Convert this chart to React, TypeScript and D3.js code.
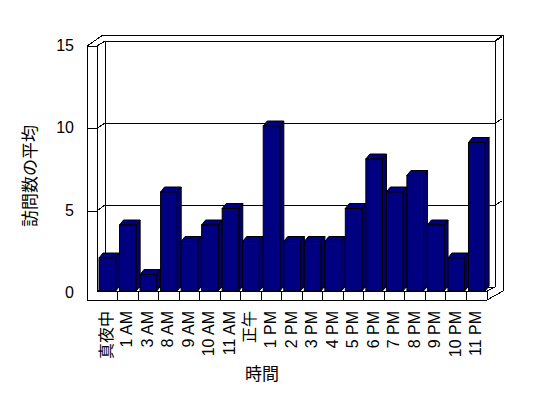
import React from "react";
import * as d3 from "d3";

const hours = ["真夜中", "1 AM", "3 AM", "8 AM", "9 AM", "10 AM", "11 AM", "正午", "1 PM", "2 PM", "3 PM", "4 PM", "5 PM", "6 PM", "7 PM", "8 PM", "9 PM", "10 PM", "11 PM"];
const visits = [2, 4, 1, 6, 3, 4, 5, 3, 10, 3, 3, 3, 5, 8, 6, 7, 4, 2, 9];
const yTicks = [0, 5, 10, 15];

const FONT = "'Liberation Sans', Arial, 'Noto Sans CJK JP', sans-serif";

export default function App() {
  const width = 548;
  const height = 398;

  // front of the floor / bars
  const x = d3.scaleBand<string>().domain(hours).range([97, 487]).paddingInner(0).paddingOuter(0);
  const yBar = d3.scaleLinear().domain([0, 15]).range([291, 43.5]);
  // front face of the left wall slab
  const ySlab = d3.scaleLinear().domain([0, 15]).range([293.5, 46]);
  // back wall
  const yBack = d3.scaleLinear().domain([0, 15]).range([287, 41]);

  const bw = x.bandwidth();
  const faceW = bw * 0.81;
  const dx = 4;
  const dy = -5;
  const line = { stroke: "#000", strokeWidth: 1, fill: "none" };

  return (
    <svg width={width} height={height} style={{ position: "absolute", left: 0, top: 0, background: "#fff" }}>
      <g shapeRendering="crispEdges">
        {/* back wall + top */}
        <path d={`M87,46 L103,35 L503,35 L503,291 L487,300 L87,300 Z`} fill="#fff" stroke="none" />
        <line x1={103} y1={35} x2={503} y2={35} {...line} />
        <line x1={105} y1={41} x2={495} y2={41} {...line} />
        <line x1={495} y1={41} x2={503} y2={35} {...line} />
        <line x1={503} y1={35} x2={503} y2={291} {...line} />
        <line x1={495} y1={41} x2={495} y2={287} {...line} />
        <line x1={105} y1={41} x2={105} y2={287} {...line} />
        <line x1={105} y1={287} x2={495} y2={287} {...line} />
        {/* left slab */}
        <line x1={87} y1={46} x2={103} y2={35} {...line} />
        <line x1={97} y1={46} x2={105} y2={41} {...line} />
        <line x1={87} y1={46} x2={97} y2={46} {...line} />
        <line x1={87} y1={46} x2={87} y2={300} {...line} />
        <line x1={97} y1={46} x2={97} y2={291} {...line} />
        <line x1={97} y1={291} x2={105} y2={287} {...line} />
        {/* gridlines */}
        {yTicks.filter((t) => t > 0).map((t) => (
          <g key={t}>
            <line x1={87} y1={ySlab(t)} x2={97} y2={ySlab(t)} {...line} />
            <line x1={97} y1={ySlab(t)} x2={105} y2={yBack(t)} {...line} />
            <line x1={105} y1={yBack(t)} x2={495} y2={yBack(t)} {...line} />
            <line x1={495} y1={yBack(t)} x2={502} y2={yBack(t) - 4} {...line} />
          </g>
        ))}
      </g>

      {/* bars */}
      <g>
        {hours.map((h, i) => {
          const x0 = (x(h) as number) + 2;
          const x1 = x0 + faceW;
          const yt = yBar(visits[i]);
          const yb = yBar(0);
          return (
            <g key={h} stroke="#000" strokeWidth={1}>
              <path d={`M${x1},${yt} L${x1 + dx},${yt + dy} L${x1 + dx},${yb + dy} L${x1},${yb} Z`} fill="#000070" />
              <path d={`M${x0},${yt} L${x0 + dx},${yt + dy} L${x1 + dx},${yt + dy} L${x1},${yt} Z`} fill="#000080" />
              <rect x={x0} y={yt} width={faceW} height={yb - yt} fill="#000080" />
            </g>
          );
        })}
      </g>

      {/* floor front */}
      <g shapeRendering="crispEdges">
        <rect x={97} y={291} width={390} height={9} fill="#fff" stroke="none" />
        <line x1={87} y1={300} x2={487} y2={300} {...line} />
        <line x1={97} y1={291} x2={487} y2={291} {...line} />
        {hours.map((h) => (
          <line key={h} x1={(x(h) as number) + bw} y1={291} x2={(x(h) as number) + bw} y2={300} {...line} />
        ))}
        <line x1={487} y1={300} x2={503} y2={291} {...line} />
        <line x1={487} y1={291} x2={495} y2={287} {...line} />
      </g>

      {/* y tick labels */}
      <g fontFamily={FONT} fontSize={16} fill="#000">
        {yTicks.map((t) => (
          <text key={t} x={74} y={ySlab(t) - 1} textAnchor="end" dominantBaseline="central">
            {t}
          </text>
        ))}
      </g>

      {/* x tick labels */}
      <g fontFamily={FONT} fontSize={16} fill="#000">
        {hours.map((h) => {
          const cx = (x(h) as number) + bw / 2 - 1;
          return (
            <text key={h} transform={`translate(${cx},311) rotate(-90)`} textAnchor="end" dominantBaseline="central">
              {h}
            </text>
          );
        })}
      </g>

      {/* axis titles */}
      <text x={262} y={374} textAnchor="middle" dominantBaseline="central" fontFamily={FONT} fontSize={17}>
        時間
      </text>
      <text transform="translate(30,176) rotate(-90)" textAnchor="middle" dominantBaseline="central" fontFamily={FONT} fontSize={17}>
        訪問数の平均
      </text>
    </svg>
  );
}
